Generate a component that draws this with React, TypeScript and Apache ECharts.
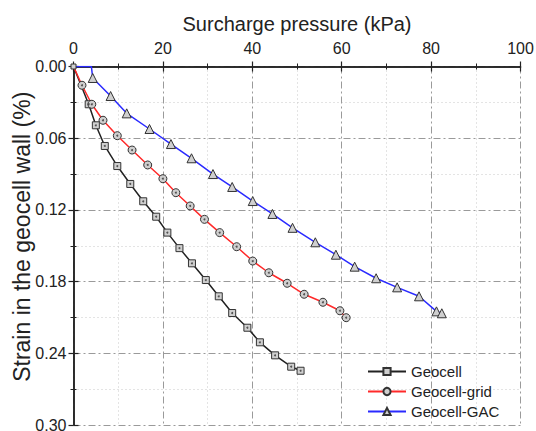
import React, { useEffect, useRef } from "react";
import * as echarts from "echarts";

const geocellX = [0, 3.4, 5.0, 7.0, 9.8, 12.7, 15.6, 18.5, 21.0, 23.7, 26.5, 29.6, 32.5, 35.5, 38.9, 41.7, 45.1, 48.7, 50.8];
const geocellY = [0, 0.0316, 0.0492, 0.0665, 0.0833, 0.0983, 0.1128, 0.1257, 0.139, 0.152, 0.1647, 0.1787, 0.1923, 0.2063, 0.2186, 0.2308, 0.2417, 0.2512, 0.2546];

const gridX = [0, 1.9, 4.1, 6.6, 9.8, 13.1, 16.6, 20.0, 22.9, 26.1, 29.3, 32.7, 36.5, 40.1, 43.7, 47.8, 51.6, 55.8, 59.6, 61.0];
const gridY = [0, 0.0157, 0.0316, 0.045, 0.0579, 0.0699, 0.0824, 0.0939, 0.1056, 0.1167, 0.1279, 0.139, 0.1508, 0.1628, 0.1726, 0.1814, 0.1906, 0.1973, 0.2044, 0.2102];

const gacX = [0, 4.0, 4.3, 8.3, 11.9, 17.0, 21.8, 26.4, 31.2, 35.5, 40.1, 44.5, 49.0, 54.1, 58.7, 62.9, 67.7, 72.4, 77.3, 81.2, 82.4];
const gacY = [0, 0, 0.0096, 0.0247, 0.0392, 0.0523, 0.0649, 0.0768, 0.09, 0.1008, 0.1126, 0.1234, 0.135, 0.1471, 0.1575, 0.1675, 0.1772, 0.1848, 0.1923, 0.2049, 0.2065];

const xTicks = [0, 20, 40, 60, 80, 100];
const yTicks = [0, 0.06, 0.12, 0.18, 0.24, 0.3];

const FONT = "'Liberation Sans', Arial, sans-serif";

function pairs(xs: number[], ys: number[]) {
  return xs.map((x, i) => [x, ys[i]]);
}

export default function App() {
  const ref = useRef<HTMLDivElement>(null);
  useEffect(() => {
    if (!ref.current) return;
    const chart = echarts.init(ref.current, null, { renderer: "svg" });
    const major = { show: true, lineStyle: { color: "#9a9a9a", width: 1, type: [7, 3, 2, 3] as any } };
    const minor = { show: true, lineStyle: { color: "#c8c8c8", width: 1, type: [1, 3] as any } };
    const axisLine = { show: true, lineStyle: { color: "#222", width: 1.5 } };
    const tick = { show: true, inside: true, length: 5, lineStyle: { color: "#222", width: 1.2 } };
    const minorTick = { show: true, splitNumber: 2, length: 3, lineStyle: { color: "#222", width: 1 } };
    const markerStyle = { color: "#cfcfcf", borderColor: "#333", borderWidth: 1 };
    const gacData = pairs(gacX, gacY).map((p, i) => (i < 2 ? { value: p, symbol: "none" } : p));
    const geoData = pairs(geocellX, geocellY).map((p, i) => (i === 0 ? { value: p, symbolSize: 5 } : p));
    chart.setOption({
      animation: false,
      textStyle: { fontFamily: FONT },
      grid: { left: 73.5, right: 15.5, top: 66.5, bottom: 6, outerBoundsMode: "none" } as any,
      legend: {
        data: ["Geocell", "Geocell-grid", "Geocell-GAC"],
        orient: "vertical",
        left: 362,
        top: 359,
        itemWidth: 38,
        itemHeight: 9,
        itemGap: 5,
        textStyle: { fontFamily: FONT, fontSize: 15, color: "#222" },
      },
      xAxis: [
        {
          type: "value",
          position: "top",
          min: 0,
          max: 100,
          interval: 20,
          name: "Surcharge pressure (kPa)",
          nameLocation: "middle",
          nameGap: 33,
          nameTextStyle: { fontSize: 20, color: "#222", fontFamily: FONT },
          axisLine,
          axisTick: tick,
          minorTick: { ...minorTick },
          axisLabel: { fontSize: 16, color: "#222", margin: 10, fontFamily: FONT },
          splitLine: major,
          minorSplitLine: minor,
        },
        {
          type: "value",
          position: "bottom",
          min: 0,
          max: 100,
          interval: 20,
          axisLine,
          axisTick: tick,
          minorTick: { ...minorTick },
          axisLabel: { show: false },
          splitLine: { show: false },
        },
      ],
      yAxis: [
        {
          type: "value",
          inverse: true,
          min: 0,
          max: 0.3,
          interval: 0.06,
          name: "Strain in the geocell wall (%)",
          nameLocation: "middle",
          nameGap: 40,
          nameMoveOverlap: false,
          nameTextStyle: { fontSize: 23, color: "#222", fontFamily: FONT, padding: [0, 0, 0, 18] },
          axisLine,
          axisTick: tick,
          minorTick: { ...minorTick },
          axisLabel: { fontSize: 16, color: "#222", margin: 7, fontFamily: FONT, formatter: (v: number) => v.toFixed(2) },
          splitLine: major,
          minorSplitLine: minor,
        } as any,
        {
          type: "value",
          position: "right",
          inverse: true,
          min: 0,
          max: 0.3,
          interval: 0.06,
          axisLine,
          axisTick: tick,
          minorTick: { ...minorTick },
          axisLabel: { show: false },
          splitLine: { show: false },
        },
      ],
      series: [
        {
          name: "Geocell",
          type: "line",
          data: geoData,
          symbol: "rect",
          symbolSize: 7,
          lineStyle: { color: "#222", width: 1.5 },
          itemStyle: markerStyle,
          z: 3,
        },
        {
          name: "Geocell-grid",
          type: "line",
          data: pairs(gridX, gridY).map((p, i) => (i === 0 ? { value: p, symbol: "none" } : p)),
          symbol: "circle",
          symbolSize: 8,
          lineStyle: { color: "#ff2a2a", width: 1.5 },
          itemStyle: markerStyle,
          z: 3,
        },
        {
          name: "Geocell-GAC",
          type: "line",
          data: gacData,
          symbol: "triangle",
          symbolSize: 9,
          lineStyle: { color: "#2a2aff", width: 1.5 },
          itemStyle: markerStyle,
          z: 3,
        },
        {
          name: "dots1",
          type: "scatter",
          data: pairs(geocellX, geocellY).slice(1),
          symbol: "circle",
          symbolSize: 2,
          itemStyle: { color: "#333" },
          z: 5,
          silent: true,
        },
        {
          name: "dots2",
          type: "scatter",
          data: pairs(gridX, gridY).slice(1),
          symbol: "circle",
          symbolSize: 2,
          itemStyle: { color: "#333" },
          z: 5,
          silent: true,
        },
      ],
    });
    return () => chart.dispose();
  }, []);
  return <div ref={ref} style={{ position: "fixed", left: 0, top: 0, width: 536, height: 431, background: "#fff" }} />;
}
